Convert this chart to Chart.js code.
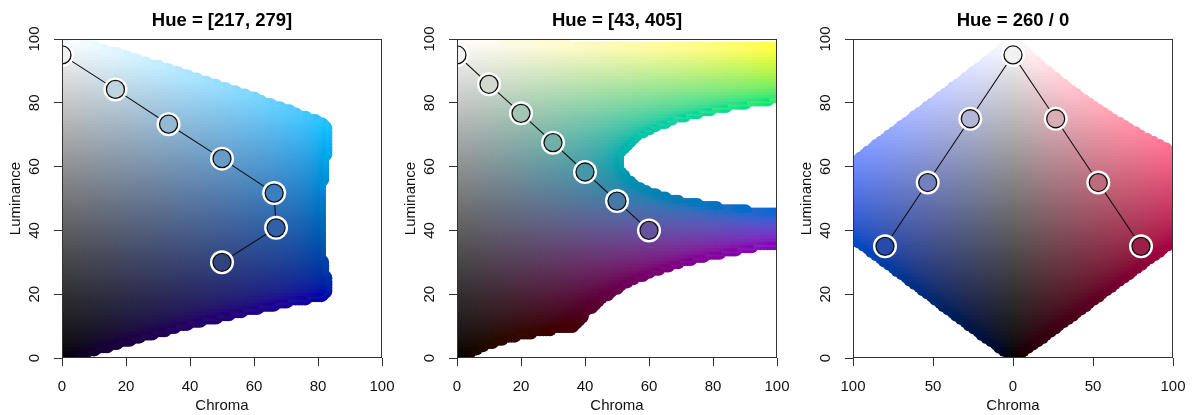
<!DOCTYPE html>
<html>
<head>
<meta charset="utf-8">
<script src="https://cdn.jsdelivr.net/npm/chart.js@4.4.1/dist/chart.umd.min.js"></script>
<style>
  html, body { margin: 0; padding: 0; background: #fff; }
  #wrap { position: relative; width: 1196px; height: 415px; }
  canvas { position: absolute; top: 0; }
</style>
</head>
<body>
<div id="wrap">
  <canvas id="p1" width="395" height="415" style="left:0px"></canvas>
  <canvas id="p2" width="396" height="415" style="left:395px"></canvas>
  <canvas id="p3" width="405" height="415" style="left:791px"></canvas>
</div>
<script>
// panel 1: Hue = [217, 279]
const chroma1 = [0, 16.7, 33.3, 50, 66.3, 66.9, 50];
const lum1 = [95, 84.2, 73.3, 62.5, 51.7, 40.8, 30];
const hue1 = [220, 227, 234, 240, 247, 254, 260];

// panel 2: Hue = [43, 405]
const chroma2 = [0, 10, 20, 30, 40, 50, 60];
const lum2 = [95, 85.8, 76.7, 67.5, 58.3, 49.2, 40];
const hue2 = [92, 122, 152, 182, 213, 243, 273];

// panel 3: Hue = 260 / 0 (negative chroma = the 260 side)
const chroma3 = [-80, -53.3, -26.7, 0, 26.7, 53.3, 80];
const lum3 = [35, 55, 75, 95, 75, 55, 35];
const hue3 = [260, 260, 260, 260, 0, 0, 0];

const titles = ['Hue = [217, 279]', 'Hue = [43, 405]', 'Hue = 260 / 0'];
const lumTicks = [0, 20, 40, 60, 80, 100];
const chromaTicks = [0, 20, 40, 60, 80, 100];
const chromaTicks3 = [-100, -50, 0, 50, 100];

const FAMILY = "'Liberation Sans', Arial, Helvetica, sans-serif";

// polarLUV (HCL) -> linear sRGB
function hcl2rgb(h, c, l) {
  if (l <= 0) return c > 0 ? [2, 2, 2] : [0, 0, 0];
  const WX = 95.047, WY = 100, WZ = 108.883;
  const hr = h * Math.PI / 180;
  const U = c * Math.cos(hr), V = c * Math.sin(hr);
  const Y = WY * (l > 7.999592 ? Math.pow((l + 16) / 116, 3) : l / 903.3);
  const den = WX + 15 * WY + 3 * WZ;
  const up = U / (13 * l) + 4 * WX / den;
  const vp = V / (13 * l) + 9 * WY / den;
  const X = 9 * Y * up / (4 * vp);
  const Z = -X / 3 - 5 * Y + 3 * Y / vp;
  const x = X / 100, y = Y / 100, z = Z / 100;
  return [
    3.240479 * x - 1.537150 * y - 0.498535 * z,
    -0.969256 * x + 1.875992 * y + 0.041556 * z,
    0.055648 * x - 0.204043 * y + 1.057311 * z
  ];
}
const inGamut = rgb => rgb.every(v => v >= -0.001 && v <= 1.001);
function toCss(rgb) {
  const s = rgb.map(v => {
    v = Math.min(1, Math.max(0, v));
    v = v <= 0.0031308 ? 12.92 * v : 1.055 * Math.pow(v, 1 / 2.4) - 0.055;
    return Math.round(v * 255);
  });
  return `rgb(${s[0]},${s[1]},${s[2]})`;
}
// hue along luminance, through first and last palette point
function lineHue(ls, hs) {
  const a = ls[0], b = ls[ls.length - 1], ha = hs[0], hb = hs[hs.length - 1];
  return L => ha + (hb - ha) * (L - a) / (b - a);
}

function bgPlugin(sides, cmax, bigR) {
  return {
    id: 'hclBg',
    beforeDatasetsDraw(chart) {
      const { ctx, chartArea: a, scales: { x, y } } = chart;
      const dots = [];
      for (const side of sides) {
        for (let L = 0; L <= 100; L++) {
          const h = side.hue(L);
          for (let C = 0; C <= cmax; C++) {
            const rgb = hcl2rgb(h, C, L);
            if (!inGamut(rgb)) continue;
            dots.push([x.getPixelForValue(side.sign * C), y.getPixelForValue(L), toCss(rgb)]);
          }
        }
      }
      ctx.save();
      ctx.beginPath();
      ctx.rect(a.left, a.top, a.right - a.left, a.bottom - a.top);
      ctx.clip();
      for (const r of [bigR, 2.2]) {
        for (const d of dots) {
          ctx.fillStyle = d[2];
          ctx.beginPath();
          ctx.arc(d[0], d[1], r, 0, 2 * Math.PI);
          ctx.fill();
        }
      }
      ctx.restore();
    }
  };
}

const boxPlugin = {
  id: 'box',
  afterDraw(chart) {
    const { ctx, chartArea: a } = chart;
    ctx.save();
    ctx.strokeStyle = '#333';
    ctx.lineWidth = 1;
    const l = Math.round(a.left) + 0.5, t = Math.round(a.top) + 0.5;
    const r = Math.round(a.right) - 0.5, b = Math.round(a.bottom) - 0.5;
    ctx.strokeRect(l, t, r - l, b - t);
    ctx.restore();
  }
};

function makeDatasets(cs, ls, hs) {
  const pts = cs.map((c, i) => ({ x: c, y: ls[i] }));
  const fills = hs.map((h, i) => toCss(hcl2rgb(h, Math.abs(cs[i]), ls[i])));
  return [
    { data: pts, showLine: false, pointRadius: 9, pointBackgroundColor: fills,
      pointBorderColor: '#111', pointBorderWidth: 1.3, clip: 0, order: 1 },
    { data: pts, showLine: false, pointRadius: 12, pointBackgroundColor: '#fff',
      pointBorderWidth: 0, clip: 0, order: 2 },
    { data: pts, showLine: true, pointRadius: 0, borderColor: '#111', borderWidth: 1.1, clip: 0, order: 3 }
  ];
}

function makeChart(id, idx, cs, ls, hs, xTicks, rightPad, sides, cmax, bigR) {
  const font = { family: FAMILY, size: 15 };
  return new Chart(document.getElementById(id), {
    type: 'scatter',
    data: { datasets: makeDatasets(cs, ls, hs) },
    options: {
      responsive: false,
      animation: false,
      events: [],
      layout: { padding: { left: 0, right: rightPad, top: 0, bottom: 0 } },
      plugins: {
        legend: { display: false },
        tooltip: { enabled: false },
        title: {
          display: true, text: titles[idx], fullSize: false, color: '#000',
          font: { family: FAMILY, size: 18.5, weight: 'bold' },
          padding: { top: 10, bottom: 6.8 }
        }
      },
      scales: {
        x: {
          type: 'linear', min: xTicks[0], max: xTicks[xTicks.length - 1],
          afterBuildTicks: s => { s.ticks = xTicks.map(v => ({ value: v })); },
          afterFit: s => { s.height = 57; s.paddingLeft = 0; s.paddingRight = 0; },
          grid: { drawOnChartArea: false, drawTicks: true, tickLength: 8, tickColor: '#333' },
          border: { display: false },
          ticks: { font, color: '#111', padding: 12, maxRotation: 0, minRotation: 0,
                   callback: v => String(Math.abs(v)) },
          title: { display: true, text: 'Chroma', font, color: '#111', padding: { top: 0, bottom: 0.5 } }
        },
        y: {
          type: 'linear', min: 0, max: 100,
          afterBuildTicks: s => { s.ticks = lumTicks.map(v => ({ value: v })); },
          afterFit: s => { s.width = 62; s.paddingTop = 0; s.paddingBottom = 0; },
          grid: { drawOnChartArea: false, drawTicks: true, tickLength: 8, tickColor: '#333' },
          border: { display: false },
          ticks: { font, color: '#111', padding: 6.5, minRotation: 90, maxRotation: 90, crossAlign: 'center' },
          title: { display: true, text: 'Luminance', font, color: '#111', padding: { top: 7, bottom: 0 } }
        }
      }
    },
    plugins: [bgPlugin(sides, cmax, bigR), boxPlugin]
  });
}

makeChart('p1', 0, chroma1, lum1, hue1, chromaTicks, 13,
  [{ sign: 1, hue: lineHue(lum1, hue1) }], 82, 8);
makeChart('p2', 1, chroma2, lum2, hue2, chromaTicks, 14,
  [{ sign: 1, hue: lineHue(lum2, hue2) }], 100, 7);
makeChart('p3', 2, chroma3, lum3, hue3, chromaTicks3, 23,
  [{ sign: -1, hue: () => hue3[0] }, { sign: 1, hue: () => hue3[hue3.length - 1] }], 100, 5);
</script>
</body>
</html>
